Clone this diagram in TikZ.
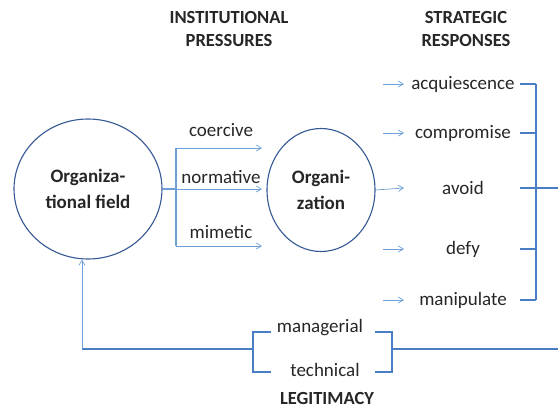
\documentclass[tikz,border=0pt]{standalone}
\usepackage{fontspec}
\setmainfont{Carlito}
\usetikzlibrary{arrows.meta, shapes.geometric}
\definecolor{ringblue}{RGB}{52,88,148}
\definecolor{brackblue}{RGB}{74,126,196}
\definecolor{arrowblue}{RGB}{110,160,215}
\definecolor{inkgray}{RGB}{38,38,38}

\begin{document}
\begin{tikzpicture}[x=1pt, y=-1pt,
        every node/.style={text=inkgray, font=\fontsize{19}{22}\selectfont},
        ring/.style={draw=ringblue, line width=1.1pt, ellipse, inner sep=0pt, align=center,
            font=\bfseries\fontsize{19}{26}\selectfont},
        heading/.style={align=center, font=\bfseries\fontsize{18.5}{23}\selectfont},
        push/.style={draw=arrowblue, line width=0.7pt, -{Straight Barb[length=5pt, width=6pt]}},
        fork/.style={draw=arrowblue, line width=1.1pt},
        bracket/.style={draw=brackblue, line width=1.5pt}]
        \useasboundingbox (0,0) rectangle (558,410);

        % headings
        \node[heading] (h-press) at (229,29) {INSTITUTIONAL\\PRESSURES};
        \node[heading] (h-resp) at (466,29) {STRATEGIC\\RESPONSES};
        \node[heading, inner sep=1pt] (h-legit) at (327,398) {LEGITIMACY};

        % the two actors
        \node[ring, minimum width=148pt, minimum height=140pt] (field) at (88,189) {Organiza-\\tional field};
        \node[ring, minimum width=108pt, minimum height=123pt] (org) at (321,190) {Organi-\\zation};

        % institutional pressures
        \coordinate (split) at (176,189);
        \draw[fork] (field.east) -- (split);
        \draw[fork] (176,148) -- (176,246);
        \foreach \name/\y/\gap in {coercive/148/8pt, normative/189/2pt, mimetic/246/4pt} {
        \draw[push] (176,\y) -- (262,\y);
        \node[above=\gap] (p-\name) at (221,\y) {\name};
        }

        % strategic responses
        \coordinate (out) at (404,188);
        \draw[push] (org.east) -- (out);
        \foreach \name/\y in {acquiescence/84, compromise/133, defy/249, manipulate/300} {
        \draw[push] (383,\y) -- (404,\y);
        }
        \foreach \name/\y in {acquiescence/84, compromise/133, avoid/188, defy/249, manipulate/300} {
        \node (r-\name) at (463,\y) {\name};
        \draw[bracket] (520,\y) -- (536,\y);
        }
        \draw[bracket] (536,84) -- (536,300);
        \draw[bracket] (536,188) -- (558,188);

        % legitimacy loop back to the field
        \node (l-man) at (320,328) {managerial};
        \node (l-tech) at (325,370) {technical};
        \draw[bracket] (271,332) -| (253,372) -- (271,372);
        \draw[bracket] (375,332) -| (392,372) -- (375,372);
        \draw[bracket] (558,349) -- (392,349);
        \draw[bracket] (253,349) -- (82,349);
        \draw[push] (82,349) -- (field.south -| 82,0);

\end{tikzpicture}
\end{document}
